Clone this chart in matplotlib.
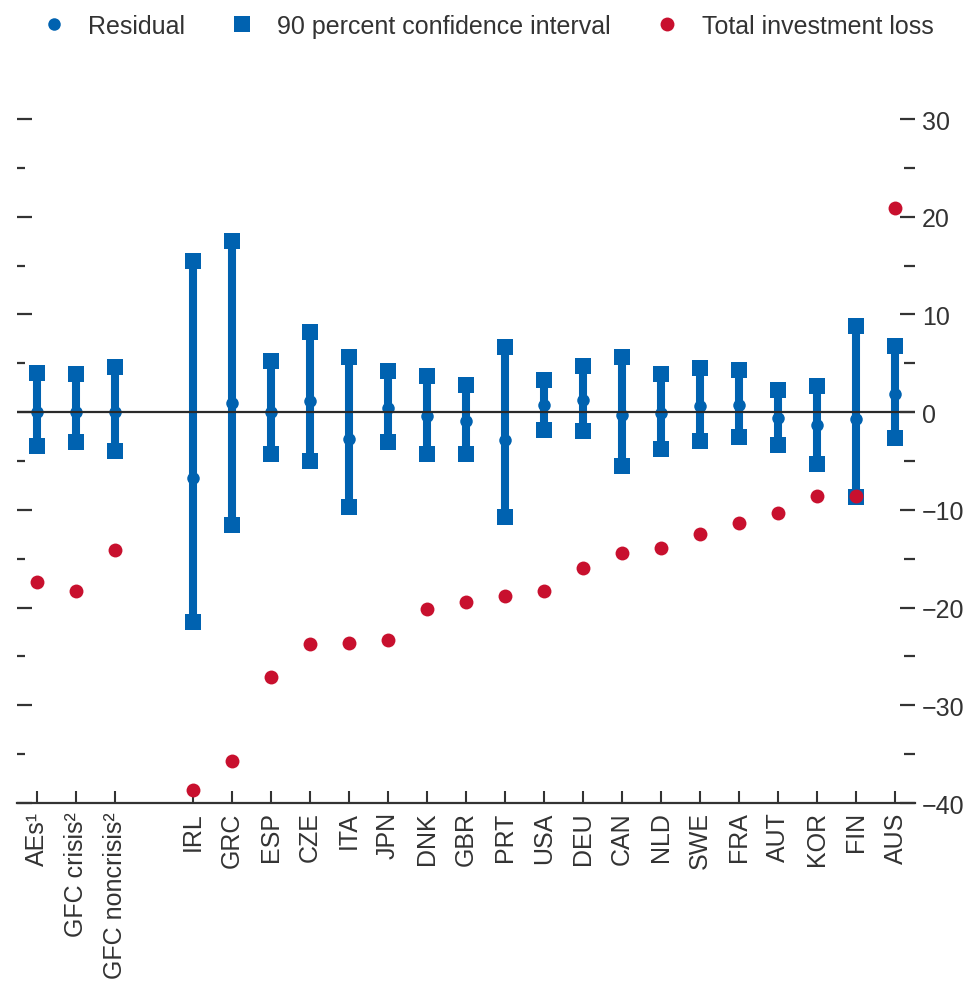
import matplotlib; matplotlib.use("Agg")
import matplotlib.pyplot as plt
import numpy as np
from matplotlib.lines import Line2D
from matplotlib.ticker import MultipleLocator, NullFormatter

plt.rcParams["font.family"] = ["Liberation Sans", "DejaVu Sans"]

# categories (an empty slot separates the aggregates from the countries)
labels = ["AEs¹", "GFC crisis²", "GFC noncrisis²", "",
          "IRL", "GRC", "ESP", "CZE", "ITA", "JPN", "DNK", "GBR", "PRT",
          "USA", "DEU", "CAN", "NLD", "SWE", "FRA", "AUT", "KOR", "FIN", "AUS"]
residual = [0.0, 0.0, 0.0, np.nan,
            -6.7, 0.9, 0.0, 1.1, -2.7, 0.4, -0.4, -0.9, -2.8,
            0.7, 1.2, -0.3, -0.1, 0.6, 0.7, -0.6, -1.3, -0.7, 1.9]
ci_low = [-3.5, -3.1, -4.0, np.nan,
          -21.5, -11.5, -4.3, -5.0, -9.7, -3.1, -4.3, -4.3, -10.7,
          -1.8, -1.9, -5.5, -3.8, -3.0, -2.5, -3.4, -5.3, -8.7, -2.6]
ci_high = [4.0, 3.9, 4.6, np.nan,
           15.5, 17.5, 5.2, 8.2, 5.6, 4.2, 3.7, 2.8, 6.7,
           3.3, 4.7, 5.6, 3.9, 4.5, 4.3, 2.3, 2.7, 8.8, 6.8]
total_loss = [-17.4, -18.3, -14.1, np.nan,
              -38.7, -35.7, -27.1, -23.7, -23.6, -23.3, -20.1, -19.4, -18.8,
              -18.3, -15.9, -14.4, -13.9, -12.5, -11.3, -10.3, -8.6, -8.6, 20.9]

BLUE = "#0062b0"
RED = "#c8102e"
TXT = "#333333"

x = np.arange(len(labels))
res = np.array(residual); lo = np.array(ci_low); hi = np.array(ci_high); tl = np.array(total_loss)
ok = ~np.isnan(res)

fig = plt.figure(figsize=(9.7, 9.87), dpi=100)
ax = fig.add_axes([17/970, 183/987, 898/970, 684/987])

ax.vlines(x[ok], lo[ok], hi[ok], color=BLUE, lw=5.8, zorder=2)
ax.plot(x[ok], lo[ok], "s", color=BLUE, ms=11.5, mew=0, zorder=2)
ax.plot(x[ok], hi[ok], "s", color=BLUE, ms=11.5, mew=0, zorder=2)
ax.plot(x[ok], res[ok], "o", color=BLUE, ms=9, mew=0, zorder=2)
ax.axhline(0, color="#2a2a2a", lw=1.6, zorder=3)
ax.plot(x[ok], tl[ok], "o", color=RED, ms=10, mew=0, zorder=4, clip_on=False)

ax.set_xlim(-0.5, len(labels) - 0.5)
ax.set_ylim(-40, 30)
for s in ["top", "left", "right"]:
    ax.spines[s].set_visible(False)
ax.spines["bottom"].set_color(TXT); ax.spines["bottom"].set_linewidth(1.6)

ax.set_xticks(x[ok])
ax.set_xticklabels([l for l, k in zip(labels, ok) if k], rotation=90, fontsize=18, color=TXT)
ax.tick_params(axis="x", direction="in", length=9, width=1.5, color=TXT, pad=6)

ax.yaxis.set_major_locator(MultipleLocator(10))
ax.yaxis.set_minor_locator(MultipleLocator(5))
ax.yaxis.set_major_formatter(NullFormatter())
ax.tick_params(axis="y", which="major", direction="in", length=10.5, width=1.6, color=TXT)
ax.tick_params(axis="y", which="minor", direction="in", length=5.5, width=1.6, color=TXT)

ax2 = ax.twinx()
ax2.set_ylim(ax.get_ylim())
for s in ax2.spines.values():
    s.set_visible(False)
ax2.yaxis.set_major_locator(MultipleLocator(10))
ax2.yaxis.set_minor_locator(MultipleLocator(5))
ax2.tick_params(axis="y", which="major", direction="in", length=11, width=1.6, color=TXT,
                labelsize=18, labelcolor=TXT, pad=5)
ax2.tick_params(axis="y", which="minor", direction="in", length=8, width=1.6, color=TXT)

handles = [Line2D([], [], ls="none", marker="o", color=BLUE, ms=9, mew=0),
           Line2D([], [], ls="none", marker="s", color=BLUE, ms=11, mew=0),
           Line2D([], [], ls="none", marker="o", color=RED, ms=10, mew=0)]
names = ["Residual", "90 percent confidence interval", "Total investment loss"]
leg = fig.legend(handles, names, loc="center left", bbox_to_anchor=(41/970, 1 - 27/987),
                 ncol=3, frameon=False, fontsize=18, handlelength=1.0, handletextpad=0.9,
                 columnspacing=1.75, borderpad=0, borderaxespad=0)
for t in leg.get_texts():
    t.set_color(TXT)

fig.savefig("out.png", dpi=100)
